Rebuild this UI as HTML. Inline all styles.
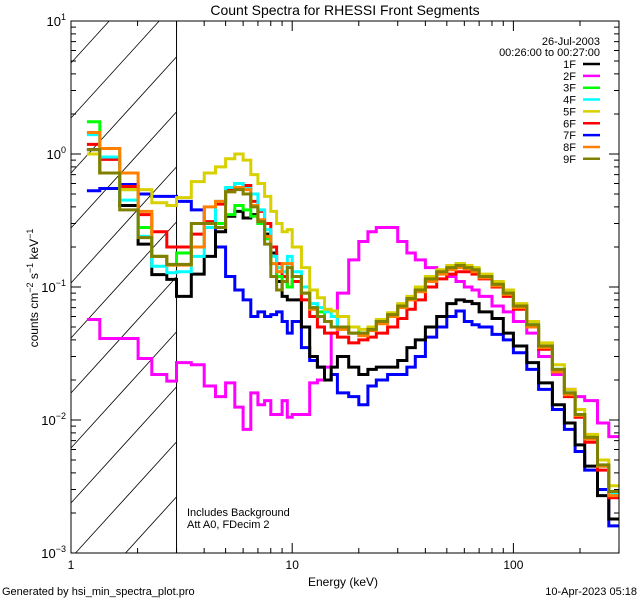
<!DOCTYPE html>
<html><head><meta charset="utf-8"><style>
html,body{margin:0;padding:0;background:#fff;}
svg{display:block;font-family:"Liberation Sans",sans-serif;}
</style></head><body>
<svg id="chart" width="640" height="600" viewBox="0 0 640 600" xmlns="http://www.w3.org/2000/svg">
<rect x="0" y="0" width="640" height="600" fill="#fff"/>
<text x="345" y="15" font-size="14" text-anchor="middle">Count Spectra for RHESSI Front Segments</text>
<g id="hatch"></g>
<g id="series"></g>
<g id="axes"></g>
<text x="343" y="586" font-size="12" text-anchor="middle">Energy (keV)</text>
<text transform="translate(38,288) rotate(-90)" font-size="12" text-anchor="middle">counts cm<tspan baseline-shift="super" font-size="9">−2</tspan> s<tspan baseline-shift="super" font-size="9">−1</tspan> keV<tspan baseline-shift="super" font-size="9">−1</tspan></text>
<text x="2" y="595" font-size="11">Generated by hsi_min_spectra_plot.pro</text>
<text x="637" y="595" font-size="11" text-anchor="end">10-Apr-2023 05:18</text>
<text x="187" y="516" font-size="11">Includes Background</text>
<text x="187" y="528" font-size="11">Att A0, FDecim 2</text>
<text x="600" y="45" font-size="11" text-anchor="end">26-Jul-2003</text>
<text x="600" y="56" font-size="11" text-anchor="end">00:26:00 to 00:27:00</text>
<g id="legend"></g>
</svg>
<script>
const edges = [1.18,1.35,1.66,2.01,2.32,2.71,3.0,3.5,4,4.5,5,5.5,6,6.5,7,7.5,8,8.5,9,9.5,10,11,12,13,14,15,16,18,20,22,24,27,30,33,36,40,45,50,55,60,65,70,80,90,100,115,130,150,170,190,210,240,270,300];
const seriesNames = ["1F","2F","3F","4F","5F","6F","7F","8F","9F"];
const seriesColors = ["#000000","#ff00ff","#00ff00","#00ffff","#d8d000","#ff0000","#0000ff","#ff8000","#808000"];
const drawOrder = [1,6,0,5,2,3,4,7,8];
const s1F = [1.08,.72,.41,.21,.124,.114, .085,.125,.17,.26,.34,.37,.33,.35,.3,.25,.18,.11,.085,.08, .08,.05,.03,.025,.02,.025,.03,.025,.022,.024,.025,.025,.028,.035,.04,.05,.06,.075,.08,.078,.075,.065,.058,.045,.036,.027,.019,.013,.0095,.0065,.0045,.0027,.0018];
const s2F = [.057,.041,.041,.029,.022,.0196, .027,.026,.018,.015,.019,.0125,.0085,.016,.013,.014,.011,.011,.014,.0105, .011,.011,.019,.02,.025,.045,.09,.16,.22,.26,.28,.28,.22,.18,.16,.14,.13,.12,.11,.1,.095,.085,.072,.065,.055,.045,.03,.022,.017,.015,.014,.0095,.0075];
const s3F = [1.75,1.10,.54,.28,.17,.146, .18,.2,.28,.3,.35,.41,.38,.34,.3,.23,.15,.12,.11,.1, .12,.09,.07,.065,.055,.05,.05,.05,.045,.048,.055,.062,.072,.082,.095,.115,.13,.14,.15,.14,.135,.12,.105,.09,.072,.052,.036,.024,.016,.011,.0075,.0045,.0028];
const s4F = [1.4,.95,.45,.24,.143,.128, .13,.17,.28,.44,.56,.6,.55,.5,.38,.27,.17,.14,.13,.17, .13,.1,.075,.07,.065,.06,.05,.045,.045,.048,.055,.062,.072,.082,.095,.115,.13,.14,.145,.14,.135,.12,.105,.09,.072,.052,.036,.024,.016,.011,.0072,.0045,.0028];
const s5F = [1.0,.72,.54,.54,.43,.41, .47,.62,.72,.8,.92,1.0,.9,.7,.6,.48,.37,.3,.26,.27, .2,.14,.095,.083,.068,.066,.06,.05,.048,.05,.057,.064,.075,.085,.1,.12,.135,.145,.15,.145,.14,.125,.11,.095,.075,.055,.038,.026,.017,.012,.0078,.005,.0032];
const s6F = [1.18,.91,.57,.35,.26,.2, .2,.25,.31,.42,.54,.6,.58,.44,.37,.3,.2,.15,.12,.1, .11,.08,.06,.05,.045,.045,.042,.038,.04,.042,.045,.05,.058,.068,.08,.1,.115,.125,.13,.13,.125,.115,.1,.085,.068,.05,.034,.023,.015,.0105,.0068,.0042,.0026];
const s7F = [.53,.55,.59,.5,.48,.48, .44,.38,.3,.2,.12,.095,.08,.06,.065,.06,.062,.065,.055,.045, .055,.035,.028,.025,.02,.022,.016,.015,.013,.018,.02,.022,.022,.025,.03,.042,.05,.06,.066,.055,.052,.05,.044,.04,.032,.024,.017,.012,.0085,.0058,.0042,.003,.0016];
const s8F = [1.45,1.10,.72,.37,.17,.146, .146,.2,.4,.44,.52,.56,.54,.41,.32,.24,.15,.13,.15,.15, .12,.09,.068,.06,.055,.05,.048,.045,.043,.047,.053,.06,.07,.08,.092,.11,.125,.135,.14,.137,.13,.117,.102,.088,.07,.05,.035,.023,.0155,.0108,.0072,.0045,.0027];
const s9F = [1.08,.72,.38,.235,.17,.148, .148,.3,.3,.28,.52,.54,.5,.4,.31,.21,.12,.095,.11,.14, .12,.09,.07,.06,.055,.05,.05,.045,.045,.048,.055,.062,.072,.082,.095,.115,.13,.14,.145,.14,.135,.12,.105,.09,.072,.052,.036,.024,.016,.011,.0074,.0046,.0029];
const allSeries = [s1F,s2F,s3F,s4F,s5F,s6F,s7F,s8F,s9F];
const yTickExps = [-3,-2,-1,0,1];
const xTickVals = [1,10,100];
const xTickLabels = ["1","10","100"];

const L=71,R=619,T=21,B=553;
const NS="http://www.w3.org/2000/svg";
function X(e){return L+221.2*Math.log10(e);}
function Y(v){return B-133*(Math.log10(v)+3);}
function mk(tag,attrs,parent){const el=document.createElementNS(NS,tag);for(const k in attrs)el.setAttribute(k,attrs[k]);parent.appendChild(el);return el;}

const hatch=document.getElementById('hatch');
const xh=X(3.0);
let hp='';
for(let y0=B+60;y0>T-200;y0-=55){
  let x1=L,y1=y0,x2=xh,y2=y0-(xh-L)*1.1;
  if(y1>B){x1=L+(y0-B)/1.1;y1=B;}
  if(y2<T){x2=L+(y0-T)/1.1;y2=T;}
  if(x1<x2&&y1>=T&&y2<=B) hp+=`M${x1.toFixed(1)},${y1.toFixed(1)}L${x2.toFixed(1)},${y2.toFixed(1)}`;
}
const hl=mk('path',{d:hp,stroke:'#000','stroke-width':'0.8',fill:'none'},hatch);


const vl=mk('line',{x1:xh,y1:T,x2:xh,y2:B,stroke:'#000','stroke-width':'1'},hatch);



const sg=document.getElementById('series');
drawOrder.forEach(i=>{
  const vals=allSeries[i];
  let d='';
  for(let k=0;k<vals.length;k++){
    const y=Y(vals[k]).toFixed(1);
    d+=(k===0?'M':'L')+X(edges[k]).toFixed(1)+','+y+'L'+X(edges[k+1]).toFixed(1)+','+y;
  }
  const p=mk('path',{d:d,stroke:seriesColors[i],'stroke-width':'3',fill:'none','stroke-linejoin':'miter'},sg);
  
  
});

const lg=document.getElementById('legend');
seriesNames.forEach((n,i)=>{
  const y=64+i*11.85;
  const t=mk('text',{x:576,y:y+4,'font-size':'11','text-anchor':'end'},lg);
  t.textContent=n;
  
  
  const l=mk('line',{x1:583,y1:y,x2:600,y2:y,stroke:seriesColors[i],'stroke-width':'2.5'},lg);
  
  
});

const ax=document.getElementById('axes');
const box=mk('rect',{x:L,y:T,width:R-L,height:B-T,fill:'none',stroke:'#000','stroke-width':'1'},ax);


let tp='';
yTickExps.forEach(e=>{
  const y=Y(Math.pow(10,e));
  tp+=`M${L},${y}h10M${R},${y}h-10`;
  if(e<1){for(let m=2;m<10;m++){const ym=Y(m*Math.pow(10,e));tp+=`M${L},${ym}h5M${R},${ym}h-5`;}}
  const t=mk('text',{x:L-5,y:y+5,'font-size':'13','text-anchor':'end'},ax);
  t.innerHTML='10<tspan dy="-6" font-size="9">'+(e<0?'−'+(-e):e)+'</tspan>';
  
  
});
xTickVals.forEach((v,i)=>{
  const x=X(v);
  tp+=`M${x},${B}v-10M${x},${T}v10`;
  for(let m=2;m<10;m++){const e=m*v;if(e<=300){const xm=X(e);tp+=`M${xm},${B}v-5M${xm},${T}v5`;}}
  const t=mk('text',{x:x,y:B+16,'font-size':'12','text-anchor':'middle'},ax);
  t.textContent=xTickLabels[i];
  
  
});
const tk=mk('path',{d:tp,stroke:'#000','stroke-width':'1',fill:'none'},ax);


</script>
</body></html>
